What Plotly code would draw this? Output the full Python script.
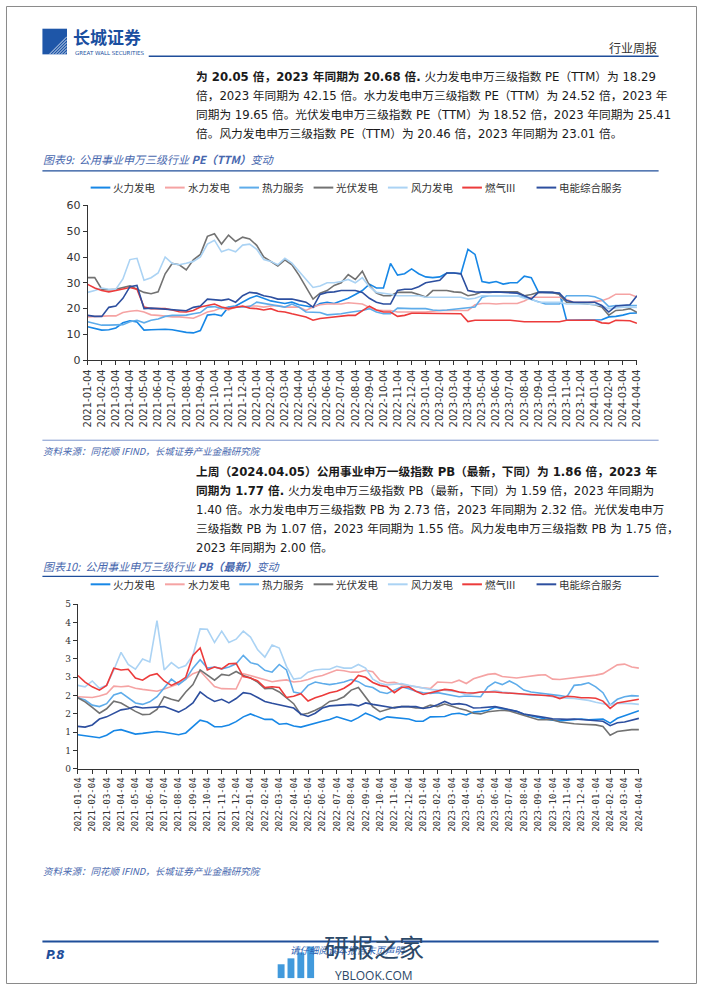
import plotly.graph_objects as go

W, H = 702, 991
def px(x): return x / W
def py(y): return 1 - y / H

# ---------------- data ----------------
dates = [
    "2021-01-04","2021-01-19","2021-02-04","2021-02-19","2021-03-04","2021-03-19","2021-04-04","2021-04-19",
    "2021-05-04","2021-05-19","2021-06-04","2021-06-19","2021-07-04","2021-07-19","2021-08-04","2021-08-19",
    "2021-09-04","2021-09-19","2021-10-04","2021-10-19","2021-11-04","2021-11-19","2021-12-04","2021-12-19",
    "2022-01-04","2022-01-19","2022-02-04","2022-02-19","2022-03-04","2022-03-19","2022-04-04","2022-04-19",
    "2022-05-04","2022-05-19","2022-06-04","2022-06-19","2022-07-04","2022-07-19","2022-08-04","2022-08-19",
    "2022-09-04","2022-09-19","2022-10-04","2022-10-19","2022-11-04","2022-11-19","2022-12-04","2022-12-19",
    "2023-01-04","2023-01-19","2023-02-04","2023-02-19","2023-03-04","2023-03-19","2023-04-04","2023-04-19",
    "2023-05-04","2023-05-19","2023-06-04","2023-06-19","2023-07-04","2023-07-19","2023-08-04","2023-08-19",
    "2023-09-04","2023-09-19","2023-10-04","2023-10-19","2023-11-04","2023-11-19","2023-12-04","2023-12-19",
    "2024-01-04","2024-01-19","2024-02-04","2024-02-19","2024-03-04","2024-03-19","2024-04-04",
]
tick_dates = [d for d in dates if d.endswith("-04")]

series_names = ["火力发电", "水力发电", "热力服务", "光伏发电", "风力发电", "燃气III", "电能综合服务"]
series_colors = ["#1787E6", "#F5A3A3", "#5EACEA", "#727272", "#ABD3F4", "#EC3B3B", "#2D4F9F"]

pe_huoli = [13.0, 12.2, 11.7, 11.8, 12.5, 14.5, 15.3, 14.8, 11.7, 11.8,
            12.0, 12.0, 11.8, 11.3, 10.8, 10.6, 11.5, 17.5, 17.8, 17.2,
            20.6, 21.0, 22.5, 24.0, 25.0, 24.0, 23.0, 22.5, 22.0, 22.5,
            21.5, 21.0, 20.5, 22.0, 22.5, 22.0, 23.0, 24.0, 25.5, 27.0,
            29.5, 28.0, 28.0, 37.5, 33.0, 33.5, 35.4, 33.5, 32.3, 32.0,
            32.3, 33.8, 33.8, 33.5, 43.0, 41.0, 30.5, 30.0, 30.5, 29.5,
            30.0, 30.0, 32.6, 32.0, 26.5, 26.3, 26.3, 26.0, 15.5, 15.5,
            15.5, 15.5, 15.5, 15.7, 16.8, 17.0, 17.5, 18.2, 18.3]
pe_shuili = [16.8, 17.0, 17.2, 17.2, 17.2, 18.5, 19.0, 19.3, 18.7, 17.6,
             17.4, 17.0, 16.8, 16.8, 16.6, 16.3, 17.4, 18.7, 19.3, 20.3,
             19.5, 20.6, 20.6, 21.0, 21.0, 20.6, 21.0, 21.2, 20.6, 20.6,
             20.6, 19.3, 20.6, 21.5, 21.8, 21.8, 21.8, 22.3, 22.0, 21.8,
             20.5, 19.5, 19.3, 19.3, 18.7, 18.7, 18.7, 18.7, 18.7, 19.0,
             19.3, 19.3, 19.3, 19.3, 19.3, 21.5, 22.0, 22.0, 21.8, 22.0,
             22.0, 22.0, 23.0, 24.4, 24.4, 24.4, 24.4, 24.4, 23.5, 22.5,
             22.5, 22.5, 22.8, 23.1, 24.0, 25.6, 25.6, 25.6, 24.5]
pe_reli = [14.9, 14.3, 13.6, 13.6, 13.6, 13.8, 14.9, 15.5, 14.5, 15.5,
           16.0, 17.0, 17.4, 17.4, 17.5, 18.0, 18.5, 20.6, 20.8, 20.0,
           20.6, 20.6, 20.6, 20.8, 22.5, 22.0, 21.5, 21.0, 20.6, 21.8,
           20.6, 18.7, 18.7, 18.5, 17.6, 17.8, 18.0, 18.5, 18.8, 19.3,
           20.0, 18.7, 18.0, 18.0, 20.2, 20.0, 20.0, 20.0, 20.0, 19.5,
           19.3, 19.5, 19.8, 20.0, 20.3, 20.6, 24.4, 25.0, 25.0, 25.0,
           25.0, 25.0, 24.4, 23.5, 22.5, 21.8, 21.8, 21.8, 25.0, 25.0,
           25.0, 25.0, 24.6, 23.5, 20.8, 21.2, 21.2, 21.2, 21.2]
pe_guangfu = [32.0, 32.0, 27.5, 27.3, 27.5, 28.0, 28.8, 27.5, 26.3, 25.8,
              26.5, 33.5, 37.5, 37.0, 35.0, 38.9, 41.0, 48.0, 49.0, 45.0,
              48.5, 46.0, 47.7, 47.0, 44.5, 40.0, 38.3, 36.5, 38.9, 37.0,
              33.0, 28.5, 23.7, 26.0, 27.0, 29.0, 30.0, 33.2, 31.3, 34.5,
              29.0, 26.0, 25.0, 25.0, 26.3, 26.3, 26.3, 25.5, 24.5, 27.0,
              27.0, 27.0, 26.5, 26.3, 25.0, 25.5, 26.5, 26.5, 26.5, 26.5,
              26.5, 26.5, 25.0, 25.5, 26.3, 26.3, 26.3, 25.5, 22.5, 22.3,
              22.0, 21.8, 21.5, 20.6, 17.5, 19.3, 19.5, 20.0, 18.6]
pe_fengli = [26.3, 27.0, 28.0, 27.5, 27.5, 31.5, 39.0, 39.5, 31.0, 32.0,
             33.8, 40.0, 37.5, 37.0, 37.6, 38.3, 40.0, 45.0, 46.5, 42.0,
             43.0, 42.0, 44.6, 45.0, 43.0, 39.0, 38.3, 37.0, 39.5, 37.6,
             34.5, 31.3, 28.2, 28.8, 30.0, 30.0, 30.5, 31.3, 30.0, 32.0,
             28.5, 26.3, 26.0, 25.6, 25.0, 25.0, 25.0, 25.0, 24.4, 24.4,
             24.4, 24.4, 24.4, 24.4, 23.7, 24.0, 25.0, 25.0, 25.0, 25.0,
             25.0, 25.0, 24.0, 23.7, 22.5, 22.5, 22.5, 22.5, 21.8, 21.8,
             21.8, 21.8, 21.5, 21.2, 20.0, 20.3, 20.6, 20.6, 20.5]
pe_ranqi = [29.4, 28.0, 27.0, 26.5, 27.0, 27.5, 28.2, 27.5, 20.6, 20.0,
            20.0, 20.0, 19.5, 18.8, 18.7, 19.3, 20.6, 21.2, 21.8, 20.6,
            20.0, 20.5, 21.0, 20.2, 20.0, 19.5, 20.0, 19.0, 18.7, 18.0,
            17.4, 16.8, 15.5, 16.2, 16.5, 16.8, 17.2, 17.4, 17.4, 19.3,
            21.0, 19.5, 18.7, 18.7, 17.0, 17.4, 18.2, 18.2, 18.2, 18.2,
            18.2, 18.2, 18.2, 18.0, 15.0, 15.5, 15.5, 15.5, 15.5, 15.5,
            15.5, 15.2, 14.9, 14.9, 14.9, 14.9, 14.9, 14.9, 15.5, 15.5,
            15.5, 15.5, 15.5, 14.5, 14.3, 15.5, 15.5, 15.3, 14.3]
pe_dianneng = [17.4, 17.0, 17.0, 20.5, 21.0, 24.0, 28.5, 29.0, 20.0, 20.2,
               20.0, 19.8, 19.5, 19.5, 19.2, 20.5, 21.0, 23.7, 23.5, 23.2,
               23.7, 22.5, 25.0, 26.3, 26.0, 25.0, 24.5, 23.7, 23.7, 23.7,
               23.1, 22.5, 20.6, 25.5, 26.3, 26.5, 27.0, 27.0, 27.0, 26.3,
               24.0, 22.5, 21.8, 21.8, 27.0, 27.5, 27.5, 28.5, 30.0, 30.5,
               31.0, 33.8, 33.8, 33.5, 27.0, 26.5, 26.3, 26.3, 26.5, 26.3,
               26.3, 26.0, 25.0, 23.7, 26.3, 26.3, 26.3, 26.0, 23.1, 22.5,
               22.5, 22.5, 22.5, 21.2, 18.7, 21.0, 21.2, 21.5, 25.0]

pb_huoli = [0.93, 0.91, 0.87, 0.85, 0.92, 1.04, 1.07, 1.00, 0.95, 0.97,
            0.99, 1.02, 1.00, 0.97, 0.93, 0.98, 1.15, 1.33, 1.28, 1.15,
            1.15, 1.20, 1.29, 1.42, 1.50, 1.42, 1.35, 1.35, 1.22, 1.24,
            1.17, 1.14, 1.20, 1.25, 1.30, 1.35, 1.42, 1.36, 1.30, 1.40,
            1.52, 1.44, 1.34, 1.42, 1.40, 1.38, 1.36, 1.30, 1.30, 1.42,
            1.43, 1.43, 1.50, 1.52, 1.47, 1.55, 1.57, 1.60, 1.68, 1.64,
            1.62, 1.57, 1.49, 1.44, 1.40, 1.36, 1.33, 1.31, 1.33, 1.35,
            1.36, 1.34, 1.34, 1.36, 1.25, 1.38, 1.45, 1.53, 1.59]
pb_shuili = [1.97, 1.95, 1.95, 1.99, 2.05, 2.26, 2.24, 2.26, 2.20, 2.17,
             2.15, 2.12, 2.18, 2.26, 2.32, 2.45, 2.60, 2.67, 2.45, 2.25,
             2.19, 2.19, 2.18, 2.60, 2.54, 2.48, 2.42, 2.38, 2.41, 2.43,
             2.37, 2.39, 2.44, 2.51, 2.55, 2.62, 2.70, 2.68, 2.64, 2.64,
             2.69, 2.65, 2.42, 2.35, 2.36, 2.30, 2.26, 2.24, 2.21, 2.19,
             2.37, 2.35, 2.35, 2.42, 2.33, 2.46, 2.52, 2.58, 2.60, 2.52,
             2.50, 2.48, 2.51, 2.54, 2.56, 2.57, 2.45, 2.44, 2.46, 2.48,
             2.50, 2.52, 2.56, 2.60, 2.73, 2.84, 2.86, 2.78, 2.75]
pb_reli = [1.94, 1.88, 1.74, 1.70, 1.78, 2.02, 2.08, 1.95, 1.80, 1.76,
           1.83, 1.97, 2.20, 2.45, 2.30, 2.45, 2.75, 2.98, 2.75, 2.78,
           2.73, 2.78, 2.87, 3.10, 2.90, 2.85, 2.69, 2.64, 2.85, 2.70,
           2.10, 2.06, 2.28, 2.37, 2.33, 2.30, 2.33, 2.37, 2.44, 2.38,
           2.26, 2.22, 2.10, 2.06, 2.15, 2.24, 2.19, 2.12, 2.08, 2.06,
           2.08, 2.05, 2.01, 1.97, 1.99, 1.99, 1.97, 2.24, 2.37, 2.30,
           2.40, 2.30, 2.15, 2.10, 2.08, 2.06, 2.02, 2.00, 1.97, 2.28,
           2.30, 2.35, 2.24, 2.08, 1.74, 1.90, 1.97, 2.00, 1.99]
pb_guangfu = [1.94, 1.83, 1.68, 1.52, 1.64, 1.85, 1.80, 1.68, 1.57, 1.48,
              1.49, 1.62, 1.97, 1.90, 1.85, 2.10, 2.30, 2.70, 2.55, 2.42,
              2.58, 2.55, 2.66, 2.55, 2.48, 2.37, 2.19, 2.20, 2.10, 1.95,
              1.78, 1.48, 1.52, 1.60, 1.70, 1.84, 1.88, 1.97, 2.15, 2.22,
              1.95, 1.70, 1.56, 1.62, 1.68, 1.70, 1.70, 1.66, 1.66, 1.74,
              1.70, 1.77, 1.70, 1.65, 1.60, 1.52, 1.50, 1.56, 1.58, 1.60,
              1.58, 1.52, 1.47, 1.40, 1.34, 1.34, 1.34, 1.28, 1.25, 1.23,
              1.22, 1.21, 1.20, 1.16, 0.92, 1.02, 1.05, 1.07, 1.07]
pb_fengli = [2.28, 2.24, 2.40, 2.20, 2.28, 2.70, 3.18, 2.85, 2.72, 3.00,
             2.92, 4.05, 2.70, 2.90, 2.75, 2.82, 3.10, 3.82, 3.81, 3.45,
             3.76, 3.45, 3.54, 3.76, 3.60, 3.25, 3.05, 3.38, 3.30, 2.80,
             2.45, 2.48, 2.64, 2.70, 2.72, 2.72, 2.80, 2.75, 2.75, 2.85,
             2.75, 2.45, 2.34, 2.29, 2.31, 2.33, 2.28, 2.24, 2.19, 2.17,
             2.15, 2.15, 2.12, 2.10, 2.02, 2.05, 2.10, 2.10, 2.14, 2.10,
             2.08, 2.06, 2.02, 2.01, 2.01, 2.01, 1.97, 1.94, 1.93, 1.92,
             1.90, 1.87, 1.82, 1.77, 1.74, 1.79, 1.79, 1.78, 1.76]
pb_ranqi = [2.55, 2.37, 2.24, 2.15, 2.28, 2.75, 2.70, 2.72, 2.48, 2.42,
            2.55, 2.60, 2.40, 2.28, 2.37, 2.50, 3.10, 3.30, 2.70, 2.78,
            2.73, 2.87, 2.88, 2.52, 2.48, 2.40, 2.22, 2.24, 2.22, 1.95,
            1.98, 2.05, 1.85, 1.94, 2.00, 2.08, 2.12, 2.20, 2.33, 2.55,
            2.50, 2.36, 2.28, 2.24, 2.08, 2.22, 2.24, 2.12, 2.03, 2.07,
            2.12, 2.17, 2.15, 2.10, 2.08, 2.07, 2.10, 2.11, 2.10, 2.08,
            2.07, 2.06, 2.05, 2.02, 2.01, 2.00, 1.99, 1.92, 1.98, 1.97,
            1.94, 1.94, 1.93, 1.85, 1.65, 1.80, 1.84, 1.87, 1.90]
pb_dianneng = [1.16, 1.14, 1.20, 1.36, 1.42, 1.52, 1.61, 1.64, 1.70, 1.66,
               1.68, 1.68, 1.70, 1.63, 1.55, 1.65, 1.80, 2.10, 1.95, 1.84,
               1.90, 1.80, 1.92, 2.08, 2.05, 1.95, 1.84, 1.79, 1.74, 1.70,
               1.66, 1.50, 1.43, 1.52, 1.66, 1.72, 1.74, 1.76, 1.76, 1.72,
               1.80, 1.76, 1.72, 1.70, 1.66, 1.70, 1.71, 1.70, 1.65, 1.68,
               1.75, 1.84, 1.76, 1.78, 1.75, 1.66, 1.67, 1.68, 1.70, 1.66,
               1.62, 1.57, 1.50, 1.46, 1.43, 1.40, 1.37, 1.35, 1.35, 1.36,
               1.35, 1.34, 1.33, 1.30, 1.18, 1.26, 1.28, 1.33, 1.38]

pe_series = [pe_huoli, pe_shuili, pe_reli, pe_guangfu, pe_fengli, pe_ranqi, pe_dianneng]
pb_series = [pb_huoli, pb_shuili, pb_reli, pb_guangfu, pb_fengli, pb_ranqi, pb_dianneng]

pe_ticks = [0, 10, 20, 30, 40, 50, 60]
pb_ticks = [0, 0.5, 1, 1.5, 2, 2.5, 3, 3.5, 4, 4.5]
pb_ticktext = ["0", "1", "1", "2", "2", "3", "3", "4", "4", "5"]

# ---------------- figure ----------------
fig = go.Figure()
for name, vals, col in zip(series_names, pe_series, series_colors):
    fig.add_trace(go.Scatter(x=dates, y=vals, mode="lines", name=name,
                             line=dict(color=col, width=1.6), xaxis="x", yaxis="y",
                             showlegend=False))
for name, vals, col in zip(series_names, pb_series, series_colors):
    fig.add_trace(go.Scatter(x=dates, y=vals, mode="lines", name=name,
                             line=dict(color=col, width=1.6), xaxis="x2", yaxis="y2",
                             showlegend=False))

LAT = "DejaVu Sans, Noto Sans CJK SC"
CJK = "Noto Sans CJK SC, DejaVu Sans"
AX = "#333333"
BLUE = "#1F4E9A"
CAP = "#4767AE"

common_x = dict(type="category", range=[0, len(dates) - 1], tickmode="array",
                tickvals=tick_dates, ticktext=tick_dates, tickangle=-90,
                ticks="outside", ticklen=4, tickcolor=AX, showline=True,
                linecolor=AX, linewidth=1, showgrid=False, zeroline=False)
fig.update_layout(
    xaxis=dict(domain=[px(83), px(641)], anchor="y",
               tickfont=dict(family=LAT, size=10, color=AX), **common_x),
    yaxis=dict(domain=[py(359), py(202)], anchor="x", range=[0, 60],
               tickmode="array", tickvals=pe_ticks, ticks="outside", ticklen=4,
               tickcolor=AX, showline=True, linecolor=AX, showgrid=False,
               zeroline=False, tickfont=dict(family=LAT, size=11, color=AX)),
    xaxis2=dict(domain=[px(73), px(643)], anchor="y2",
                tickfont=dict(family="DejaVu Sans Mono", size=9, color=AX), **common_x),
    yaxis2=dict(domain=[py(773), py(606)], anchor="x2", range=[0, 4.5],
                tickmode="array", tickvals=pb_ticks, ticktext=pb_ticktext,
                ticks="outside", ticklen=4, tickcolor=AX, showline=True,
                linecolor=AX, showgrid=False, zeroline=False,
                tickfont=dict(family="DejaVu Serif", size=9, color=AX)),
)

shapes = []
ann = []

def text(x, y, s, size=12, color="#1a1a1a", family=CJK, anchor="left"):
    ann.append(dict(x=px(x), y=py(y), xref="paper", yref="paper", text=s,
                    showarrow=False, xanchor=anchor, yanchor="middle",
                    font=dict(family=family, size=size, color=color)))

def hline(x0, x1, y, color, width):
    shapes.append(dict(type="line", xref="paper", yref="paper", x0=px(x0), x1=px(x1),
                       y0=py(y), y1=py(y), line=dict(color=color, width=width)))

# page frame
shapes.append(dict(type="rect", xref="paper", yref="paper", x0=px(0.5), x1=px(701.5),
                   y0=py(990.5), y1=py(0.5), line=dict(color="#8a8a8a", width=1)))

# header
shapes.append(dict(type="rect", xref="paper", yref="paper", x0=px(37), x1=px(62),
                   y0=py(49), y1=py(23), fillcolor="#1E56A8", line=dict(width=0)))
for k in range(6):
    shapes.append(dict(type="line", xref="paper", yref="paper",
                       x0=px(44 + 3 * k), x1=px(62), y0=py(49), y1=py(31 + 3 * k),
                       line=dict(color="white", width=0.8)))
text(66, 31, "<b>长城证券</b>", size=17, color="#1A4FA0")
text(68, 47.5, "GREAT WALL SECURITIES", size=5.5, color="#1A4FA0", family=LAT)
text(663, 42, "行业周报", size=12, color="#333333", anchor="right")
hline(145, 663, 51, BLUE, 1.5)

# paragraph 1
BODY = 11.7
p1 = [
    "<b>为 20.05 倍，2023 年同期为 20.68 倍.</b> 火力发电申万三级指数 PE（TTM）为 18.29",
    "倍，2023 年同期为 42.15 倍。水力发电申万三级指数 PE（TTM）为 24.52 倍，2023 年",
    "同期为 19.65 倍。光伏发电申万三级指数 PE（TTM）为 18.52 倍，2023 年同期为 25.41",
    "倍。风力发电申万三级指数 PE（TTM）为 20.46 倍，2023 年同期为 23.01 倍。",
]
for i, s in enumerate(p1):
    text(191, 72 + 19.3 * i, s, size=BODY, family=LAT)

# chart 9 caption
text(36, 155, "<i>图表9:  公用事业申万三级行业 <b>PE（TTM）</b>变动</i>", size=11, color=CAP)
hline(37, 663, 167, BLUE, 1.2)

def legend(y):
    for i, (name, col) in enumerate(zip(series_names, series_colors)):
        x0 = 86 + 75.5 * i
        hline(x0, x0 + 20, y, col, 2)
        text(x0 + 21, y, name, size=10.5, color="#333333")

legend(184)

# source 1
hline(37, 663, 440, "#5A7BC0", 0.8)
text(36, 451, "<i>资料来源：同花顺 IFIND，长城证券产业金融研究院</i>", size=9.5, color=CAP)

# paragraph 2
p2 = [
    "<b>上周（2024.04.05）公用事业申万一级指数 PB（最新，下同）为 1.86 倍，2023 年</b>",
    "<b>同期为 1.77 倍.</b> 火力发电申万三级指数 PB（最新，下同）为 1.59 倍，2023 年同期为",
    "1.40 倍。水力发电申万三级指数 PB 为 2.73 倍，2023 年同期为 2.32 倍。光伏发电申万",
    "三级指数 PB 为 1.07 倍，2023 年同期为 1.55 倍。风力发电申万三级指数 PB 为 1.75 倍，",
    "2023 年同期为 2.00 倍。",
]
for i, s in enumerate(p2):
    text(191, 472 + 19.3 * i, s, size=BODY, family=LAT)

# chart 10 caption
text(36, 567, "<i>图表10:  公用事业申万三级行业 <b>PB（最新）</b>变动</i>", size=11, color=CAP)
hline(37, 663, 578, BLUE, 1.2)
legend(586)

# source 2
text(36, 877, "<i>资料来源：同花顺 IFIND，长城证券产业金融研究院</i>", size=9.5, color=CAP)

# footer
hline(37, 663, 948, BLUE, 2)
text(39, 962, "<b><i>P.8</i></b>", size=12, color=BLUE, family=LAT)
text(286, 957, "<i>请仔细阅读本报告末页声明</i>", size=9.5, color="#2F5FB0")
for k, hgt in enumerate([14, 20, 26, 32]):
    shapes.append(dict(type="rect", xref="paper", yref="paper",
                       x0=px(276 + k * 10), x1=px(283 + k * 10),
                       y0=py(985), y1=py(985 - hgt), fillcolor="#2E8FD8",
                       line=dict(width=0), opacity=0.9))
text(374, 953, "研报之家", size=25, color="#2B4868", anchor="center")
text(374, 982, "YBLOOK.COM", size=12, color="#2B4868", family="Open Sans", anchor="center")

fig.update_layout(
    width=W, height=H, margin=dict(l=0, r=0, t=0, b=0),
    paper_bgcolor="white", plot_bgcolor="white",
    shapes=shapes, annotations=ann, showlegend=False,
)

fig.write_html("out.html", config={"displayModeBar": False},
               post_script="document.body.style.margin='0';document.body.style.overflow='hidden';")
